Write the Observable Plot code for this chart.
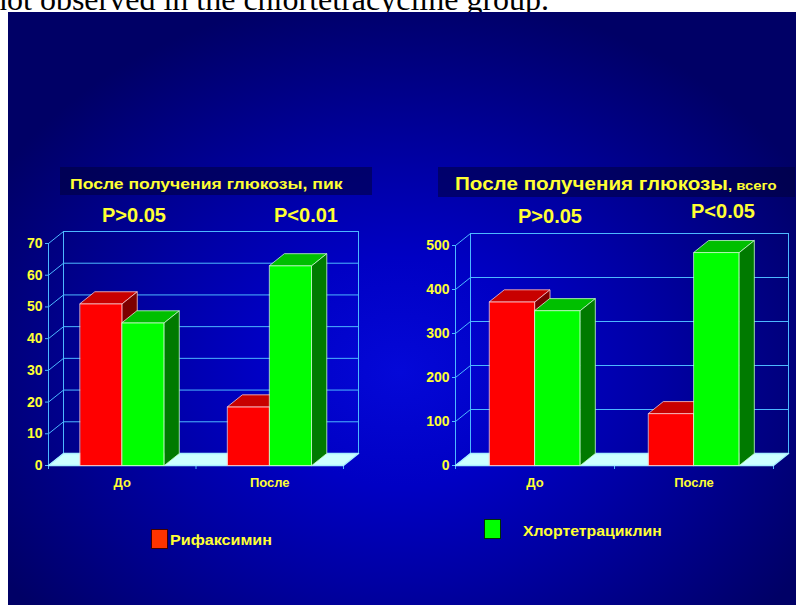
<!DOCTYPE html>
<html>
<head>
<meta charset="utf-8">
<script src="https://cdn.jsdelivr.net/npm/d3@7"></script>
<script src="https://cdn.jsdelivr.net/npm/@observablehq/plot@0.6"></script>
<style>
  body { margin: 0; background: #fff; }
  #root { position: relative; width: 796px; height: 605px; overflow: hidden; background: #fff; }
  #toptext { position: absolute; left: -9px; top: -17px; font: 32px/1 'Liberation Serif', 'Times New Roman', serif; color: #000; white-space: nowrap; }
  #panel { position: absolute; left: 8px; top: 12px; width: 788px; height: 593px;
    background: radial-gradient(ellipse 470px 380px at 392px 360px, #0408d8 0%, #0000c4 30%, #0000a4 55%, #000084 78%, #000066 100%); }
  .lbl { position: absolute; font-family: 'Liberation Sans', Arial, sans-serif; font-weight: bold; color: #ffff33; white-space: nowrap; line-height: 1; }
  .box { position: absolute; background: rgba(0,0,60,0.55); }
  .chart { position: absolute; }
  .chart svg { overflow: visible; }
  .chart g[aria-label="y-axis tick"], .chart g[aria-label="x-axis tick"] { stroke: #4db8ff; }
  .sw { position: absolute; }
</style>
</head>
<body>
<div id="root">
  <div id="toptext">not observed in the chlortetracycline group.</div>
  <div id="panel"></div>
</div>
<script>
// ---- data ----
const categories = ["До", "После"];
const series = ["Рифаксимин", "Хлортетрациклин"];
const peakRifaximin = [51, 18.5];
const peakChlortetracycline = [45, 63];
const totalRifaximin = [372, 118];
const totalChlortetracycline = [352, 484];
const peakTicks = [0, 10, 20, 30, 40, 50, 60, 70];
const totalTicks = [0, 100, 200, 300, 400, 500];
const peakTitle = "После получения глюкозы, пик";
const totalTitleMain = "После получения глюкозы";
const totalTitleSuffix = ", всего";
const peakPValues = ["P>0.05", "P<0.01"];
const totalPValues = ["P>0.05", "P<0.05"];

// ---- styling ----
const FONT = "'Liberation Sans', Arial, sans-serif";
const YELLOW = "#ffff33";
const GRID = "#4db8ff";
const faceColors = [
  { front: "#ff0000", top: "#c80000", side: "#7c0000", edge: "#ffc8c8" },
  { front: "#00ff00", top: "#00bf00", side: "#007a00", edge: "#c8ffc8" }
];

const root = document.getElementById("root");

function chart3d({ W, H, mL, mR, mT, mB, yMax, ticks, values }) {
  const DX = 15, DY = 12;
  const dx = DX * 2 / (W - mL - mR);
  const dy = DY * yMax / (H - mT - mB);
  const bw = 0.285;
  const marks = [];
  marks.push(Plot.ruleY(ticks, { y: t => t + dy, x1: dx, x2: 2 + dx, stroke: GRID, strokeWidth: 1 }));
  marks.push(Plot.link(ticks, { x1: () => 0, y1: t => t, x2: () => dx, y2: t => t + dy, stroke: GRID }));
  marks.push(Plot.ruleX([dx, 2 + dx], { y1: dy, y2: yMax + dy, stroke: GRID }));
  marks.push(Plot.ruleX([0], { y1: 0, y2: yMax, stroke: GRID }));
  const floor = [{ x: 0, y: 0 }, { x: 2, y: 0 }, { x: 2 + dx, y: dy }, { x: dx, y: dy }];
  marks.push(Plot.line(floor, { x: "x", y: "y", fill: "#ccffff", stroke: "#a8eeff", curve: "linear-closed" }));
  categories.forEach((c, i) => {
    values.forEach((vals, j) => {
      const v = vals[i];
      const x1 = i + 0.5 - bw + j * bw, x2 = x1 + bw;
      const col = faceColors[j];
      const front = [{ x: x1, y: 0 }, { x: x2, y: 0 }, { x: x2, y: v }, { x: x1, y: v }];
      const top = [{ x: x1, y: v }, { x: x2, y: v }, { x: x2 + dx, y: v + dy }, { x: x1 + dx, y: v + dy }];
      const side = [{ x: x2, y: 0 }, { x: x2 + dx, y: dy }, { x: x2 + dx, y: v + dy }, { x: x2, y: v }];
      marks.push(Plot.line(front, { x: "x", y: "y", fill: col.front, stroke: col.edge, strokeWidth: 0.8, curve: "linear-closed" }));
      marks.push(Plot.line(top, { x: "x", y: "y", fill: col.top, stroke: col.edge, strokeWidth: 0.8, curve: "linear-closed" }));
      marks.push(Plot.line(side, { x: "x", y: "y", fill: col.side, stroke: col.edge, strokeWidth: 0.8, curve: "linear-closed" }));
    });
  });
  marks.push(Plot.text(categories, { x: (d, i) => i + 0.5, y: () => 0, dy: 17, text: d => d, fill: YELLOW, fontSize: 13, fontWeight: "bold" }));
  return Plot.plot({
    width: W, height: H,
    marginLeft: mL, marginRight: mR, marginTop: mT, marginBottom: mB,
    x: { domain: [0, 2], ticks: [0, 1, 2], tickFormat: () => "", tickSize: 4, label: null },
    y: { domain: [0, yMax], ticks: ticks, tickSize: 3, tickPadding: 3, label: null },
    style: { background: "transparent", color: YELLOW, fontFamily: FONT, fontSize: "14px", fontWeight: "bold", overflow: "visible" },
    marks
  });
}

function place(el, left, top) {
  const wrap = document.createElement("div");
  wrap.className = "chart";
  wrap.style.left = left + "px";
  wrap.style.top = top + "px";
  wrap.appendChild(el);
  root.appendChild(wrap);
}

place(chart3d({ W: 380, H: 280, mL: 48, mR: 37, mT: 23, mB: 35, yMax: 70, ticks: peakTicks,
  values: [peakRifaximin, peakChlortetracycline] }), 0, 220);
place(chart3d({ W: 396, H: 280, mL: 55, mR: 23, mT: 25, mB: 35, yMax: 500, ticks: totalTicks,
  values: [totalRifaximin, totalChlortetracycline] }), 400, 220);

// ---- HTML text: titles, p-values, legend ----
function box(l, t, w, h) {
  const d = document.createElement("div");
  d.className = "box";
  Object.assign(d.style, { left: l + "px", top: t + "px", width: w + "px", height: h + "px" });
  root.appendChild(d);
}
function label(html, x, cy, size, anchor, targetWidth) {
  const d = document.createElement("div");
  d.className = "lbl";
  d.innerHTML = html;
  d.style.fontSize = size + "px";
  d.style.left = x + "px";
  d.style.top = cy + "px";
  root.appendChild(d);
  let sx = 1;
  if (targetWidth) sx = targetWidth / d.offsetWidth;
  if (anchor === "middle") {
    d.style.transformOrigin = "50% 50%";
    d.style.transform = `translate(-50%,-50%) scaleX(${sx})`;
  } else {
    d.style.transformOrigin = "0 50%";
    d.style.transform = `translate(0,-50%) scaleX(${sx})`;
  }
  return d;
}
box(60, 167, 312, 28);
box(438, 167, 357, 30);
label(peakTitle, 70, 183, 15, "start", 273);
label(totalTitleMain + '<span style="font-size:13px">' + totalTitleSuffix + '</span>', 455, 184, 18, "start", 322);
label(peakPValues[0], 134, 215, 20, "middle");
label(peakPValues[1], 306, 215, 20, "middle");
label(totalPValues[0], 550, 216, 20, "middle");
label(totalPValues[1], 723, 211, 20, "middle");

// legend
const legendPos = [{ sx: 151, sy: 529, tx: 170, ty: 539, w: 102 }, { sx: 484, sy: 519, tx: 523, ty: 530, w: 139 }];
const legendSwatch = ["#ff3300", "#00ff00"];
const legendBorder = ["#400000", "#003000"];
series.forEach((s, i) => {
  const p = legendPos[i];
  const sw = document.createElement("div");
  sw.className = "sw";
  Object.assign(sw.style, { left: p.sx + "px", top: p.sy + "px", width: "15px", height: "18px",
    background: legendSwatch[i], border: "1px solid " + legendBorder[i] });
  root.appendChild(sw);
  label(s, p.tx, p.ty, 15, "start", p.w);
});
</script>
</body>
</html>
